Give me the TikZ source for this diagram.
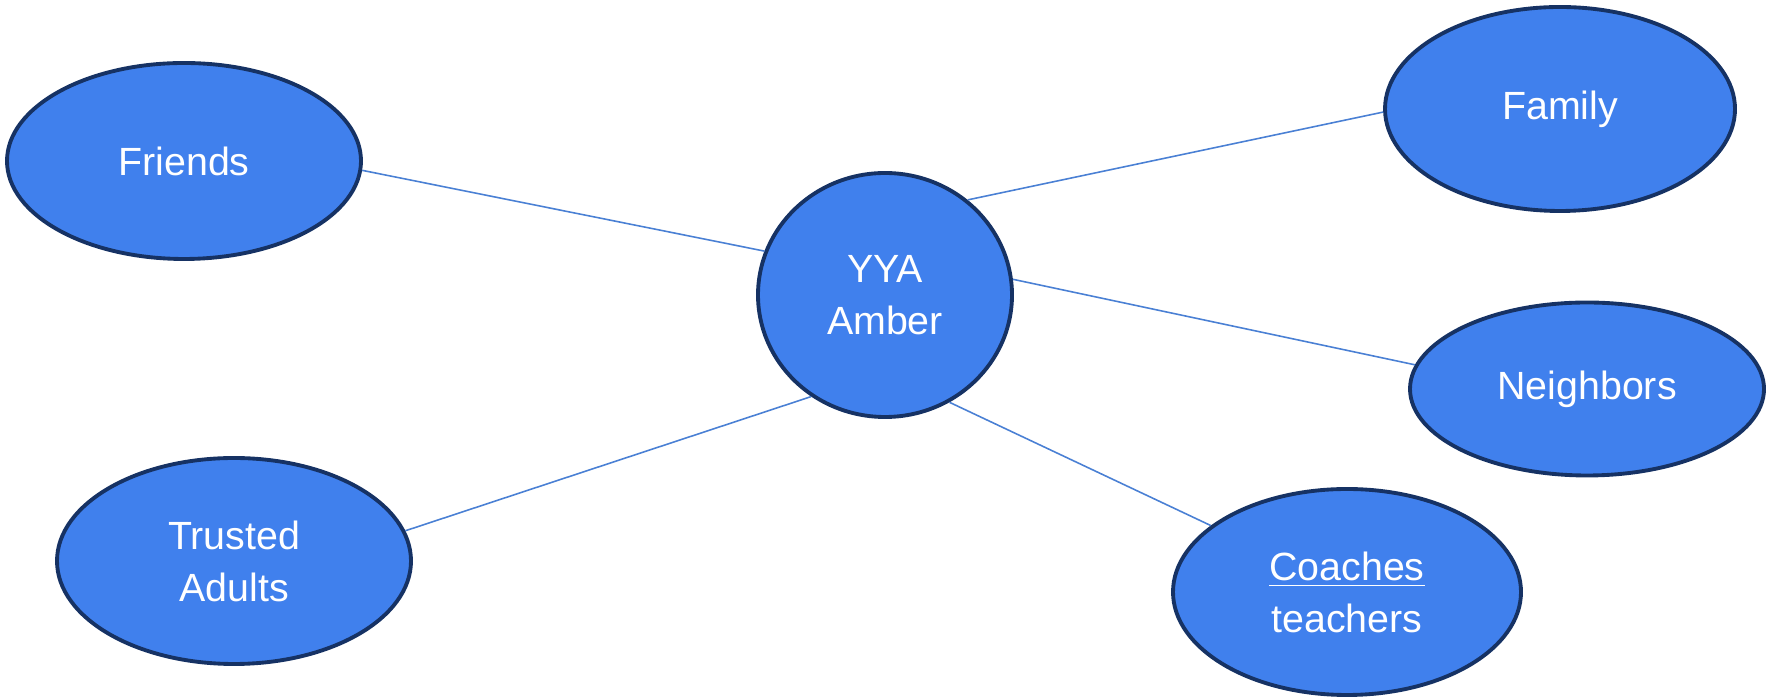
\documentclass[tikz,border=0pt]{standalone}
\usepackage{fontspec}
\setmainfont{Liberation Sans}
\usepackage{xcolor}
\usetikzlibrary{shapes.geometric}

\definecolor{bubblefill}{RGB}{64,128,237}
\definecolor{bubbleline}{RGB}{22,50,100}
\definecolor{linkblue}{RGB}{74,128,212}

\tikzset{
	bubble/.style={ellipse, draw=bubbleline, line width=1.1pt, fill=bubblefill,
		text=white, inner sep=0pt, align=center,
		font=\fontsize{11.2}{14.8}\selectfont},
	link/.style={draw=linkblue, line width=.45pt}
}

\begin{document}
\begin{tikzpicture}
	\useasboundingbox (0,0) rectangle (17.67,6.99);

	\node[bubble, minimum width=2.54cm, minimum height=2.44cm] (yya) at (8.85,4.04) {YYA\\Amber};

	\node[bubble, minimum width=3.54cm, minimum height=1.96cm] (friends) at (1.84,5.38) {Friends};
	\node[bubble, minimum width=3.50cm, minimum height=2.04cm] (family) at (15.60,5.90) {Family};
	\node[bubble, minimum width=3.54cm, minimum height=1.73cm] (neighbors) at (15.87,3.10) {Neighbors};
	\node[bubble, minimum width=3.48cm, minimum height=2.06cm] (coaches) at (13.47,1.07) {\underline{Coaches}\\teachers};
	\node[bubble, minimum width=3.54cm, minimum height=2.06cm] (trusted) at (2.34,1.38) {Trusted\\Adults};

	% links from the centre out
	\foreach \a/\n/\b in {160/friends/-3, 49/family/181, 7/neighbors/172, -59/coaches/154, -126/trusted/10}{
		\draw[link] (yya.\a) -- (\n.\b);
	}
\end{tikzpicture}
\end{document}
